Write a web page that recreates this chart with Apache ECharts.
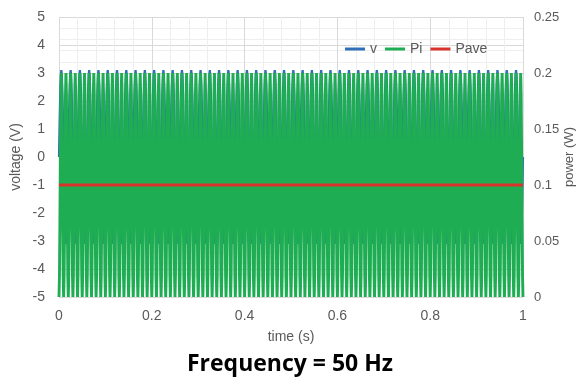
<!DOCTYPE html>
<html>
<head>
<meta charset="utf-8">
<script src="https://cdn.jsdelivr.net/npm/echarts@6/dist/echarts.min.js"></script>
<style>
  html, body { margin: 0; padding: 0; background: #fff; }
  #chart { width: 580px; height: 384px; }
</style>
</head>
<body>
<div id="chart"></div>
<script>
// one 20 ms period of the 50 Hz signal, sampled every 1 ms
const sampleStep = 0.001;
const cycleCount = 50;
const vCycle = [0, 0.96, 1.82, 2.51, 2.95, 3.1, 2.95, 2.51, 1.82, 0.96,
                0, -0.96, -1.82, -2.51, -2.95, -3.1, -2.95, -2.51, -1.82, -0.96];
const piCycle = [0, 0.019, 0.069, 0.131, 0.181, 0.2, 0.181, 0.131, 0.069, 0.019,
                 0, 0.019, 0.069, 0.131, 0.181, 0.2, 0.181, 0.131, 0.069, 0.019];
const paveValue = 0.1;
const timeRange = [0, 1];

// repeat the measured period over the whole record
const vData = [];
const piData = [];
for (let c = 0; c < cycleCount; c++) {
    vCycle.forEach((val, k) => {
        const t = +((c * vCycle.length + k) * sampleStep).toFixed(3);
        vData.push([t, val]);
        piData.push([t, piCycle[k]]);
    });
}
vData.push([timeRange[1], vCycle[0]]);
piData.push([timeRange[1], piCycle[0]]);
const paveData = timeRange.map(t => [t, paveValue]);

const labelColor = '#595959';
const chart = echarts.init(document.getElementById('chart'));
chart.setOption({
    animation: false,
    title: {
        text: 'Frequency = 50 Hz',
        left: 'center',
        top: 348,
        textStyle: { fontFamily: 'Open Sans', fontWeight: 'bold', fontSize: 23, color: '#000' }
    },
    legend: {
        left: 340,
        top: 37,
        icon: 'rect',
        itemWidth: 20,
        itemHeight: 3,
        itemGap: 8,
        textStyle: { color: labelColor, fontSize: 14, fontFamily: 'Liberation Sans' },
        data: ['v', 'Pi', 'Pave']
    },
    grid: { left: 59, right: 57, top: 17, bottom: 87, outerBoundsMode: 'none' },
    xAxis: {
        type: 'value',
        min: 0,
        max: 1,
        interval: 0.2,
        name: 'time (s)',
        nameLocation: 'middle',
        nameGap: 33,
        nameTextStyle: { color: labelColor, fontSize: 14, fontFamily: 'Liberation Sans' },
        axisLine: { show: false },
        axisTick: { show: false },
        axisLabel: { color: labelColor, fontSize: 14, margin: 12, fontFamily: 'Liberation Sans' },
        splitLine: { lineStyle: { color: '#d9d9d9' } },
        minorTick: { show: false, splitNumber: 5 },
        minorSplitLine: { show: true, lineStyle: { color: '#eeeeee' } }
    },
    yAxis: [{
        type: 'value',
        min: -5,
        max: 5,
        interval: 1,
        name: 'voltage (V)',
        nameLocation: 'middle',
        nameRotate: 90,
        nameGap: 36,
        nameMoveOverlap: false,
        nameTextStyle: { color: labelColor, fontSize: 14, fontFamily: 'Liberation Sans' },
        axisLine: { show: false },
        axisTick: { show: false },
        axisLabel: { color: labelColor, fontSize: 14, margin: 14, fontFamily: 'Liberation Sans' },
        splitLine: { lineStyle: { color: '#d9d9d9' } }
    }, {
        type: 'value',
        min: 0,
        max: 0.25,
        interval: 0.05,
        name: 'power (W)',
        nameLocation: 'middle',
        nameRotate: 90,
        nameGap: 40,
        nameMoveOverlap: false,
        nameTextStyle: { color: labelColor, fontSize: 13, fontFamily: 'Liberation Sans' },
        axisLine: { show: false },
        axisTick: { show: false },
        axisLabel: { color: labelColor, fontSize: 13, margin: 11, fontFamily: 'Liberation Sans' },
        splitLine: { show: false },
        minorTick: { show: false, splitNumber: 5 },
        minorSplitLine: { show: true, lineStyle: { color: '#eeeeee' } }
    }],
    series: [{
        name: 'v',
        type: 'line',
        yAxisIndex: 0,
        symbol: 'none',
        color: '#2e6fb7',
        lineStyle: { width: 2.2 },
        data: vData
    }, {
        name: 'Pi',
        type: 'line',
        yAxisIndex: 1,
        symbol: 'none',
        color: '#1ead52',
        lineStyle: { width: 2.9 },
        data: piData
    }, {
        name: 'Pave',
        type: 'line',
        yAxisIndex: 1,
        symbol: 'none',
        color: '#d9342b',
        lineStyle: { width: 3 },
        data: paveData
    }]
});
</script>
</body>
</html>
